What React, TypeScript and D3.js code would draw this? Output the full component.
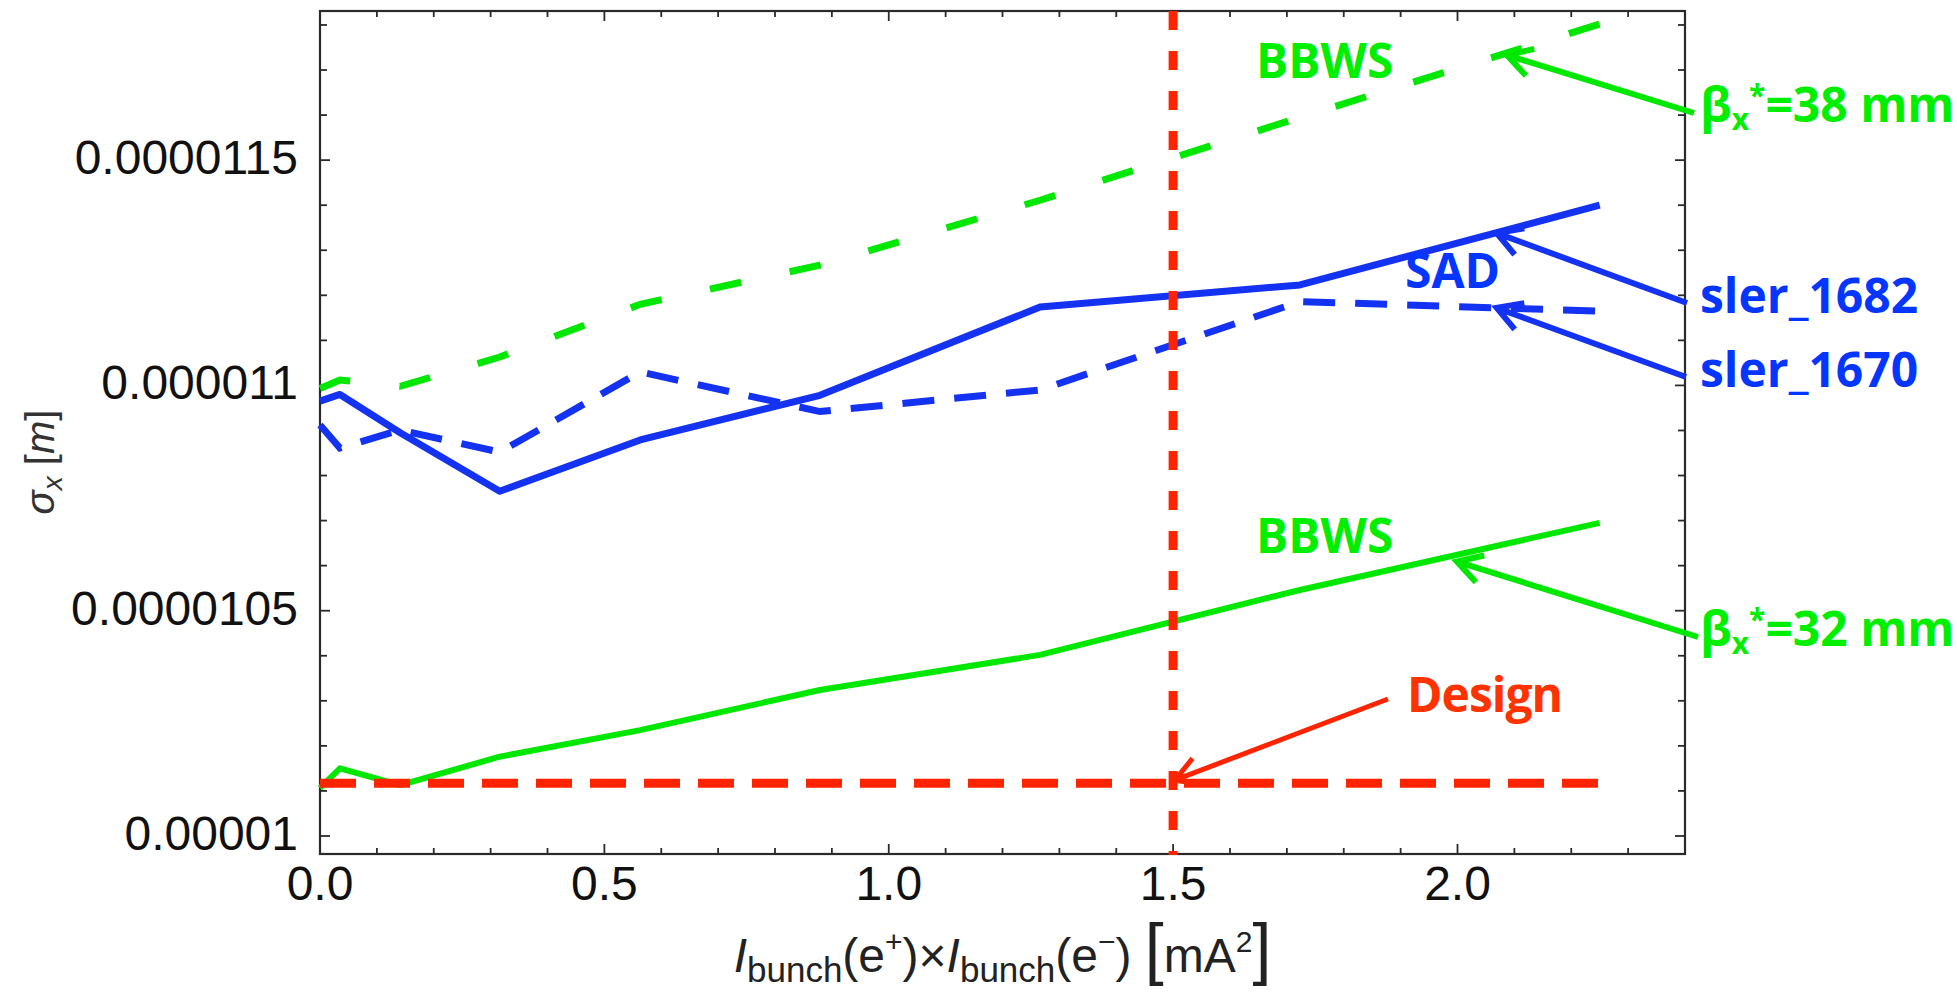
import React from 'react';
import * as d3 from 'd3';

const W = 1957;
const H = 993;
const margin = { left: 320, right: 272, top: 11, bottom: 139 };

// bunch current product I(e+) x I(e-) in mA^2
const current2 = [0, 0.035, 0.141, 0.316, 0.563, 0.879, 1.266, 1.723, 2.25];

// sigma_x in units of 1e-6 m
const bbws32 = [10.106, 10.15, 10.113, 10.176, 10.235, 10.324, 10.402, 10.546, 10.695];
const bbws38 = [10.993, 11.012, 10.998, 11.063, 11.18, 11.267, 11.411, 11.595, 11.802];
const sler1682 = [10.965, 10.98, 10.895, 10.765, 10.879, 10.978, 11.174, 11.223, 11.4];
const sler1670 = [10.912, 10.861, 10.901, 10.852, 11.03, 10.942, 10.99, 11.186, 11.165];

const designSigma = 10.117;
const designSpan = [0, 2.25];
const designCurrent = 1.5;

const xMajor = [0, 0.5, 1, 1.5, 2];
const xTickLabels = ['0.0', '0.5', '1.0', '1.5', '2.0'];
const yMajor = [10, 10.5, 11, 11.5];
const yTickLabels = ['0.00001', '0.0000105', '0.000011', '0.0000115'];

const GREEN = '#00e800';
const GREEN_TXT = '#00ee00';
const BLUE = '#1432f2';
const BLUE_TXT = '#0536ff';
const RED = '#ff2400';
const RED_TXT = '#ff3300';

const tickFont = '"Liberation Sans", Arial, sans-serif';
const noteFont = '"Open Sans", sans-serif';

function arrowPath(tip: [number, number], tail: [number, number], len = 28, ang = Math.PI / 6) {
  const a = Math.atan2(tail[1] - tip[1], tail[0] - tip[0]);
  const b1 = [tip[0] + len * Math.cos(a + ang), tip[1] + len * Math.sin(a + ang)];
  const b2 = [tip[0] + len * Math.cos(a - ang), tip[1] + len * Math.sin(a - ang)];
  return `M${tail[0]},${tail[1]}L${tip[0]},${tip[1]}M${b1[0]},${b1[1]}L${tip[0]},${tip[1]}L${b2[0]},${b2[1]}`;
}

export default function App() {
  const x = d3.scaleLinear().domain([0, 2.4]).range([margin.left, W - margin.right]);
  const y = d3.scaleLinear().domain([9.96, 11.831]).range([H - margin.bottom, margin.top]);
  const [x0, x1] = x.range();
  const [yb, yt] = y.range();

  const line = d3.line<number>()
    .x((_, i) => x(current2[i]))
    .y(d => y(d));

  const xMinor = d3.range(0, 25).map(i => i / 10);
  const yMinor = d3.range(100, 119).map(i => i / 10);
  const isMajor = (v: number) => Math.abs(v * 2 - Math.round(v * 2)) < 1e-6;

  // arrows: tip on the curve (data coords), tail next to the label (pixels)
  const arrows = [
    { tip: [2.087, 11.733], tail: [1694, 113], color: GREEN, w: 6 },
    { tip: [2.069, 11.338], tail: [1687, 303], color: BLUE, w: 6 },
    { tip: [2.069, 11.172], tail: [1686, 377], color: BLUE, w: 6 },
    { tip: [1.999, 10.609], tail: [1698, 637], color: GREEN, w: 6 },
    { tip: [1.503, 10.124], tail: [1388, 699], color: RED, w: 5 },
  ];

  return (
    <svg width={W} height={H} style={{ position: 'absolute', left: 0, top: 0, background: '#fff' }}>
      {/* frame */}
      <rect x={x0} y={yt} width={x1 - x0} height={yb - yt} fill="none" stroke="#2a2a2a" strokeWidth={2.2} />
      {xMinor.map(v => {
        const L = isMajor(v) ? 10 : 6;
        return (
          <g key={'xt' + v} stroke="#2a2a2a" strokeWidth={1.8}>
            <line x1={x(v)} x2={x(v)} y1={yb} y2={yb - L} />
            <line x1={x(v)} x2={x(v)} y1={yt} y2={yt + L} />
          </g>
        );
      })}
      {yMinor.map(v => {
        const L = isMajor(v) ? 10 : 7;
        return (
          <g key={'yt' + v} stroke="#2a2a2a" strokeWidth={1.8}>
            <line x1={x0} x2={x0 + L} y1={y(v)} y2={y(v)} />
            <line x1={x1} x2={x1 - L} y1={y(v)} y2={y(v)} />
          </g>
        );
      })}
      {xMajor.map((v, i) => (
        <text key={'xl' + v} x={x(v)} y={900} textAnchor="middle" fontFamily={tickFont} fontSize={48} fill="#111">
          {xTickLabels[i]}
        </text>
      ))}
      {yMajor.map((v, i) => (
        <text key={'yl' + v} x={298} y={y(v) + 14} textAnchor="end" fontFamily={tickFont} fontSize={48} fill="#111">
          {yTickLabels[i]}
        </text>
      ))}

      {/* axis labels */}
      <text x={(x0 + x1) / 2} y={972} textAnchor="middle" fontFamily={tickFont} fontSize={48} fill="#222">
        <tspan fontStyle="italic">I</tspan>
        <tspan fontSize={35} dy={10}>bunch</tspan>
        <tspan dy={-10}>(e</tspan>
        <tspan fontSize={30} dy={-20}>+</tspan>
        <tspan dy={20}>)×</tspan>
        <tspan fontStyle="italic">I</tspan>
        <tspan fontSize={35} dy={10}>bunch</tspan>
        <tspan dy={-10}>(e</tspan>
        <tspan fontSize={30} dy={-20}>−</tspan>
        <tspan dy={20}>{') '}</tspan>
        <tspan fontSize={68}>[</tspan>
        <tspan>mA</tspan>
        <tspan fontSize={30} dy={-20}>2</tspan>
        <tspan fontSize={68} dy={20}>]</tspan>
      </text>
      <text transform="translate(54,462) rotate(-90)" textAnchor="middle" fontFamily={tickFont} fontSize={40} fill="#333">
        <tspan fontStyle="italic">σ</tspan>
        <tspan fontStyle="italic" fontSize={28} dy={8}>x</tspan>
        <tspan dy={-8}>{' ['}</tspan>
        <tspan fontStyle="italic">m</tspan>
        <tspan>]</tspan>
      </text>

      {/* series */}
      <path d={line(bbws38) ?? ''} fill="none" stroke={GREEN} strokeWidth={7} strokeDasharray="32 49.5" />
      <path d={line(sler1670) ?? ''} fill="none" stroke={BLUE} strokeWidth={7} strokeDasharray="32 20" />
      <path d={line(sler1682) ?? ''} fill="none" stroke={BLUE} strokeWidth={7} strokeLinejoin="round" />
      <path d={line(bbws32) ?? ''} fill="none" stroke={GREEN} strokeWidth={6} strokeLinejoin="round" />
      <line x1={x(designSpan[0])} x2={x(designSpan[1])} y1={y(designSigma)} y2={y(designSigma)}
        stroke={RED} strokeWidth={9} strokeDasharray="36 18" />
      <line x1={x(designCurrent)} x2={x(designCurrent)} y1={yt} y2={yb + 1}
        stroke={RED} strokeWidth={9} strokeDasharray="19 21" />

      {/* annotations */}
      {arrows.map((a, i) => (
        <path key={'ar' + i} d={arrowPath([x(a.tip[0]), y(a.tip[1])], a.tail as [number, number])}
          fill="none" stroke={a.color} strokeWidth={a.w} strokeLinejoin="miter" />
      ))}
      <g fontFamily={noteFont} fontWeight={700} fontSize={48}>
        <text x={1256} y={78} fill={GREEN_TXT}>BBWS</text>
        <text x={1256} y={553} fill={GREEN_TXT}>BBWS</text>
        <text x={1405} y={288} fill={BLUE_TXT}>SAD</text>
        <text x={1700} y={313} fill={BLUE_TXT}>sler_1682</text>
        <text x={1700} y={387} fill={BLUE_TXT}>sler_1670</text>
        <text x={1407} y={712} fill={RED_TXT} letterSpacing={-1}>Design</text>
        <text x={1700} y={122} fill={GREEN_TXT}>
          β<tspan fontSize={30} dy={8}>x</tspan>
          <tspan fontSize={30} dy={-24}>*</tspan>
          <tspan dy={16}>=38 mm</tspan>
        </text>
        <text x={1700} y={646} fill={GREEN_TXT}>
          β<tspan fontSize={30} dy={8}>x</tspan>
          <tspan fontSize={30} dy={-24}>*</tspan>
          <tspan dy={16}>=32 mm</tspan>
        </text>
      </g>
    </svg>
  );
}
